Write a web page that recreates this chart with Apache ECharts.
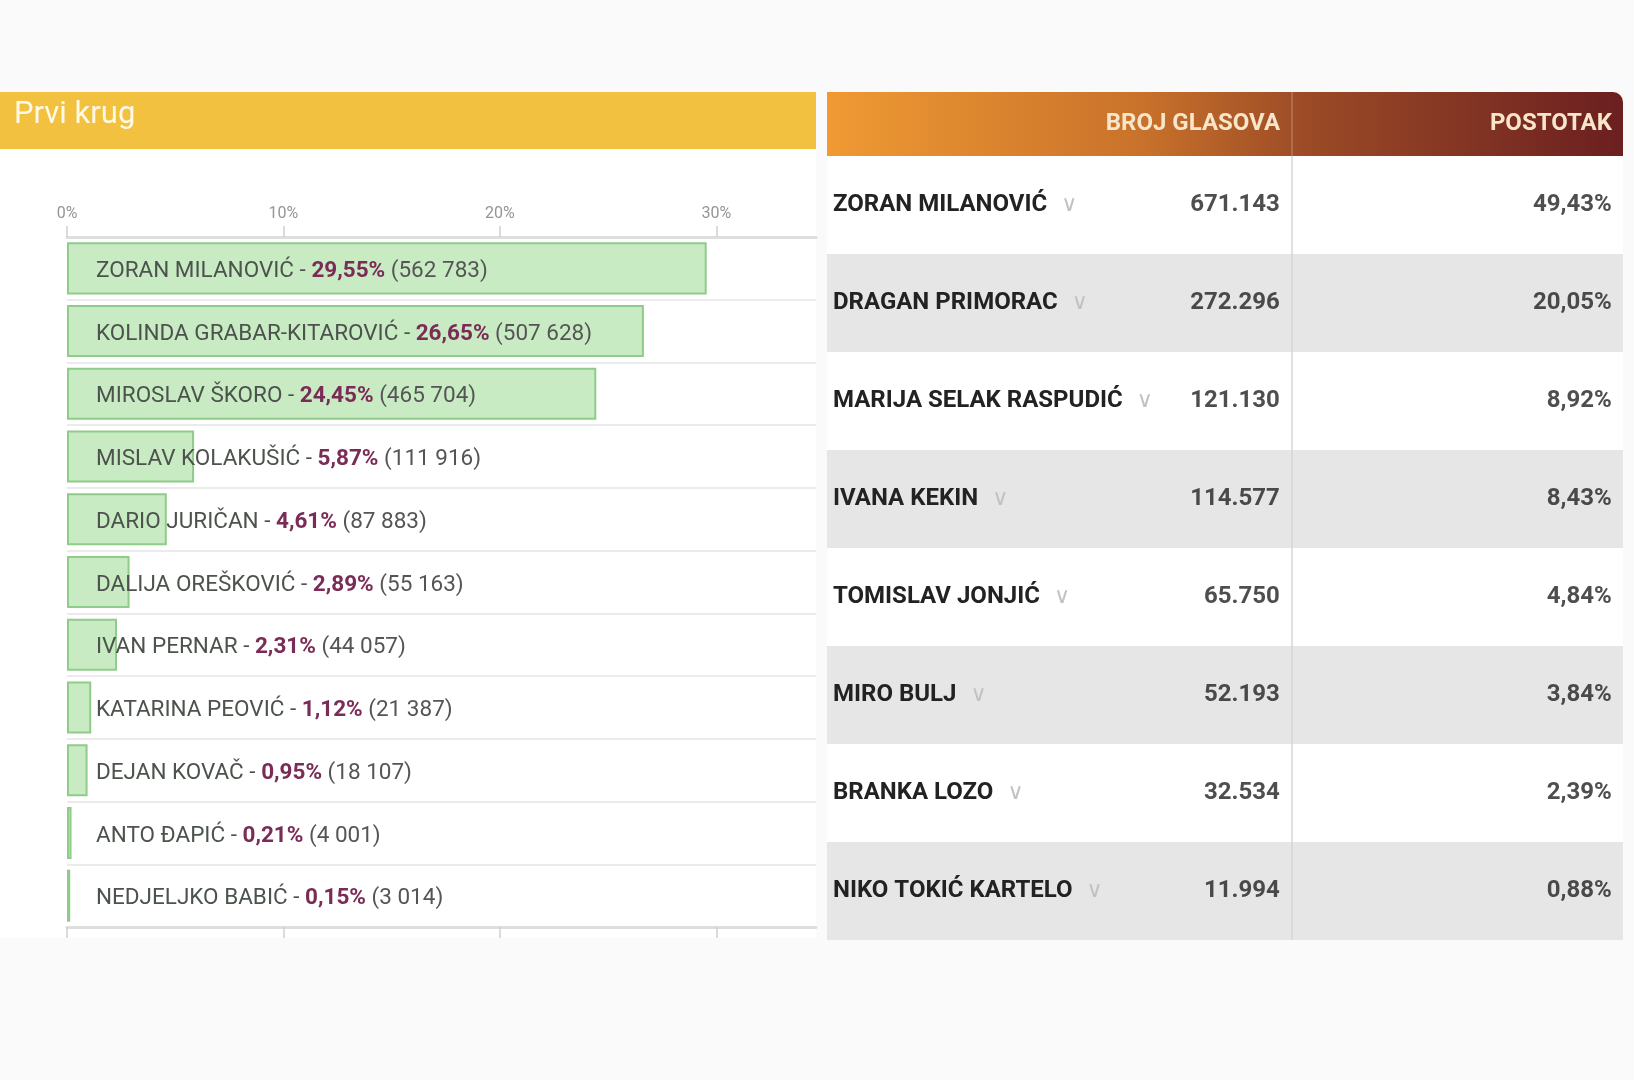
<!DOCTYPE html>
<html>
<head>
<meta charset="utf-8">
<script src="https://cdn.jsdelivr.net/npm/echarts@6/dist/echarts.min.js"></script>
<style>
html,body{margin:0;padding:0;background:#fafafa;}
#chart{width:1634px;height:1080px;}
</style>
</head>
<body>
<div id="chart"></div>
<script>
// ---- First round (bar chart) ----
const roundOneTitle = 'Prvi krug';
const roundOneNames = ['ZORAN MILANOVIĆ','KOLINDA GRABAR-KITAROVIĆ','MIROSLAV ŠKORO','MISLAV KOLAKUŠIĆ','DARIO JURIČAN','DALIJA OREŠKOVIĆ','IVAN PERNAR','KATARINA PEOVIĆ','DEJAN KOVAČ','ANTO ĐAPIĆ','NEDJELJKO BABIĆ'];
const roundOnePct = [29.55, 26.65, 24.45, 5.87, 4.61, 2.89, 2.31, 1.12, 0.95, 0.21, 0.15];
const roundOneVotes = [562783, 507628, 465704, 111916, 87883, 55163, 44057, 21387, 18107, 4001, 3014];
const roundOneTicks = [0, 10, 20, 30];

// ---- Table ----
const tableHeaders = ['BROJ GLASOVA', 'POSTOTAK'];
const tableNames = ['ZORAN MILANOVIĆ','DRAGAN PRIMORAC','MARIJA SELAK RASPUDIĆ','IVANA KEKIN','TOMISLAV JONJIĆ','MIRO BULJ','BRANKA LOZO','NIKO TOKIĆ KARTELO'];
const tableVotes = [671143, 272296, 121130, 114577, 65750, 52193, 32534, 11994];
const tablePct = [49.43, 20.05, 8.92, 8.43, 4.84, 3.84, 2.39, 0.88];

const fmtPct = v => v.toFixed(2).replace('.', ',') + '%';
const fmtSpace = v => String(v).replace(/\B(?=(\d{3})+(?!\d))/g, ' ');
const fmtDot = v => String(v).replace(/\B(?=(\d{3})+(?!\d))/g, '.');

// layout constants (table column anchors on a 0..100 axis)
const COL_VOTES = 56.9;
const COL_DIVIDER = 58.4;
const COL_PCT = 98.6;

const chart = echarts.init(document.getElementById('chart'), null, {renderer: 'canvas'});

const FONT = 'Roboto';

chart.setOption({
  backgroundColor: '#fafafa',
  animation: false,
  graphic: [
    {type: 'rect', z: -10, shape: {x: 0, y: 149, width: 816, height: 789}, style: {fill: '#ffffff'}},
    {type: 'rect', z: 10, shape: {x: 0, y: 92, width: 816, height: 57}, style: {fill: '#f2c13f'}},
    {type: 'text', z: 11, x: 14, y: 115, style: {text: roundOneTitle, fill: '#fff9e6', font: '31px Roboto', textAlign: 'left', textVerticalAlign: 'middle'}},
    {type: 'rect', z: 10, shape: {x: 827, y: 92, width: 796, height: 64, r: [0, 10, 0, 0]},
      style: {fill: new echarts.graphic.LinearGradient(0, 0, 1, 0, [
        {offset: 0, color: '#ef9a33'},
        {offset: 0.4, color: '#c8712b'},
        {offset: 0.6, color: '#9c4b26'},
        {offset: 1, color: '#6b1f20'}
      ])}},
    {type: 'rect', z: 11, shape: {x: 1291, y: 92, width: 2, height: 64}, style: {fill: 'rgba(255,255,255,0.18)'}},
    {type: 'text', z: 12, x: 1280, y: 124, style: {text: tableHeaders[0], fill: '#f7e6c9', font: 'bold 24px Roboto', textAlign: 'right', textVerticalAlign: 'middle'}},
    {type: 'text', z: 12, x: 1612, y: 124, style: {text: tableHeaders[1], fill: '#f7e6c9', font: 'bold 24px Roboto', textAlign: 'right', textVerticalAlign: 'middle'}}
  ],
  grid: [
    {left: 67, top: 237, width: 749, height: 690, containLabel: false},
    {left: 827, top: 156, width: 796, height: 784, containLabel: false}
  ],
  xAxis: [
    {
      type: 'value', gridIndex: 0, position: 'top', min: 0, max: 34.6, interval: 10,
      axisLine: {show: true, lineStyle: {color: '#dedede', width: 3}},
      axisTick: {show: true, length: 11, customValues: roundOneTicks, lineStyle: {color: '#cfcfcf', width: 1.5}},
      axisLabel: {show: true, customValues: roundOneTicks, margin: 15, color: '#959595', fontSize: 16, fontFamily: FONT, formatter: v => v + '%'},
      splitLine: {show: false}
    },
    {
      type: 'value', gridIndex: 0, position: 'bottom', min: 0, max: 34.6, interval: 10,
      axisLine: {show: true, lineStyle: {color: '#dedede', width: 3}},
      axisTick: {show: true, length: 11, customValues: roundOneTicks, lineStyle: {color: '#cfcfcf', width: 1.5}},
      axisLabel: {show: false},
      splitLine: {show: false}
    },
    {
      type: 'value', gridIndex: 1, min: 0, max: 100, show: false, splitLine: {show: false}
    }
  ],
  yAxis: [
    {
      type: 'category', gridIndex: 0, inverse: true, data: roundOneNames,
      axisLine: {show: false}, axisTick: {show: false}, axisLabel: {show: false},
      splitLine: {show: true, lineStyle: {color: '#ebebeb', width: 2}}
    },
    {
      type: 'category', gridIndex: 1, inverse: true, data: tableNames,
      axisLine: {show: false}, axisTick: {show: false},
      axisLabel: {
        show: true, inside: true, margin: 6,
        formatter: v => '{n|' + v + '}{c|  ∨}',
        rich: {
          n: {fontFamily: FONT, fontWeight: 'bold', fontSize: 24, color: '#222222'},
          c: {fontFamily: 'DejaVu Sans', fontSize: 22, color: '#c2c2c2'}
        }
      },
      splitLine: {show: false},
      splitArea: {show: true, areaStyle: {color: ['#ffffff', '#e6e6e6']}}
    }
  ],
  series: [
    {
      type: 'bar', xAxisIndex: 0, yAxisIndex: 0,
      data: roundOnePct,
      barCategoryGap: '17%',
      itemStyle: {color: '#c9ebc4', borderColor: '#8fcb89', borderWidth: 2},
      label: {
        show: true, position: 'insideLeft', distance: 29, offset: [0, 3],
        formatter: p => '{n|' + roundOneNames[p.dataIndex] + ' - }{p|' + fmtPct(roundOnePct[p.dataIndex]) + '}{v| (' + fmtSpace(roundOneVotes[p.dataIndex]) + ')}',
        rich: {
          n: {fontFamily: FONT, fontSize: 22.5, color: '#4c534c'},
          p: {fontFamily: FONT, fontSize: 22.5, fontWeight: 'bold', color: '#7a2c57'},
          v: {fontFamily: FONT, fontSize: 22.5, color: '#555555'}
        }
      }
    },
    {
      type: 'scatter', xAxisIndex: 2, yAxisIndex: 1,
      data: tableVotes.map((v, i) => [COL_VOTES, tableNames[i], v]),
      symbolSize: 0.1, itemStyle: {color: 'transparent'}, silent: true,
      label: {
        show: true, position: 'left', distance: 0,
        formatter: p => fmtDot(p.data[2]),
        fontFamily: FONT, fontWeight: 'bold', fontSize: 24, color: '#222222'
      },
      markLine: {
        silent: true, symbol: ['none', 'none'], label: {show: false},
        lineStyle: {color: '#d6d6d6', width: 1.5, type: 'solid'},
        data: [{xAxis: COL_DIVIDER}]
      }
    },
    {
      type: 'scatter', xAxisIndex: 2, yAxisIndex: 1,
      data: tablePct.map((v, i) => [COL_PCT, tableNames[i], v]),
      symbolSize: 0.1, itemStyle: {color: 'transparent'}, silent: true,
      label: {
        show: true, position: 'left', distance: 0,
        formatter: p => fmtPct(p.data[2]),
        fontFamily: FONT, fontWeight: 'bold', fontSize: 24, color: '#222222'
      }
    }
  ]
});
</script>
</body>
</html>
